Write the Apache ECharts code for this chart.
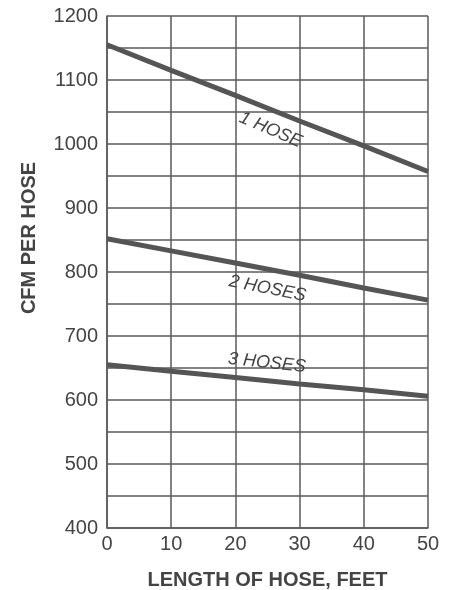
<!DOCTYPE html>
<html>
<head>
<meta charset="utf-8">
<script src="https://cdn.jsdelivr.net/npm/echarts@6/dist/echarts.min.js"></script>
<style>
html,body{margin:0;padding:0;background:#fff;}
#main{width:451px;height:590px;}
</style>
</head>
<body>
<div id="main"></div>
<script>
var lengths = [0, 10, 20, 30, 40, 50];
var oneHose = [1155, 1115, 1076, 1036, 997, 957];
var twoHoses = [852, 833, 814, 795, 775, 756];
var threeHoses = [655, 645, 635, 625, 616, 606];
var seriesNames = ['1 HOSE', '2 HOSES', '3 HOSES'];
var labelAnchors = [[25.5, 1022], [25.0, 774], [24.9, 658]];
var labelAngles = [-23, -11, -6];

function pairs(vals){ return lengths.map(function(x,i){ return [x, vals[i]]; }); }
var allVals = [oneHose, twoHoses, threeHoses];

var chart = echarts.init(document.getElementById('main'));
var textColor = '#444';
var gridColor = '#5a5a5a';
var ff = 'Liberation Sans, Arial, sans-serif';
chart.setOption({
  backgroundColor: '#fff',
  animation: false,
  grid: {left: 107, right: 23, top: 16, bottom: 62, containLabel: false, outerBoundsMode: 'none'},
  xAxis: {
    type: 'value', min: 0, max: 50, interval: 10,
    name: 'LENGTH OF HOSE, FEET', nameLocation: 'middle', nameGap: 42,
    nameTextStyle: {fontFamily: ff, fontWeight: 'bold', fontSize: 20, color: textColor},
    axisLine: {show: true, lineStyle: {color: gridColor, width: 1.5}},
    axisTick: {show: false},
    axisLabel: {fontFamily: ff, fontSize: 20, color: textColor, margin: 6},
    splitLine: {show: true, lineStyle: {color: gridColor, width: 1.5}}
  },
  yAxis: {
    type: 'value', min: 400, max: 1200, interval: 50,
    name: 'CFM PER HOSE', nameLocation: 'middle', nameGap: 68,
    nameTextStyle: {fontFamily: ff, fontWeight: 'bold', fontSize: 20, color: textColor, padding: [0,0,0,68]},
    axisLine: {show: true, lineStyle: {color: gridColor, width: 1.5}},
    axisTick: {show: false},
    axisLabel: {fontFamily: ff, fontSize: 20, color: textColor, margin: 9,
      formatter: function(v){ return v % 100 === 0 ? String(v) : ''; }},
    splitLine: {show: true, lineStyle: {color: gridColor, width: 1.5}}
  },
  series: allVals.map(function(vals, i){
    return {
      name: seriesNames[i], type: 'line', data: pairs(vals),
      symbol: 'none', smooth: false,
      lineStyle: {color: '#555', width: 5},
      markPoint: {
        symbol: 'circle', symbolSize: 0, silent: true,
        data: [{coord: labelAnchors[i], value: seriesNames[i],
          label: {show: true, position: 'inside', formatter: seriesNames[i], rotate: labelAngles[i],
            fontFamily: ff, fontStyle: 'italic', fontSize: 18, color: textColor}}]
      }
    };
  })
});
</script>
</body>
</html>
